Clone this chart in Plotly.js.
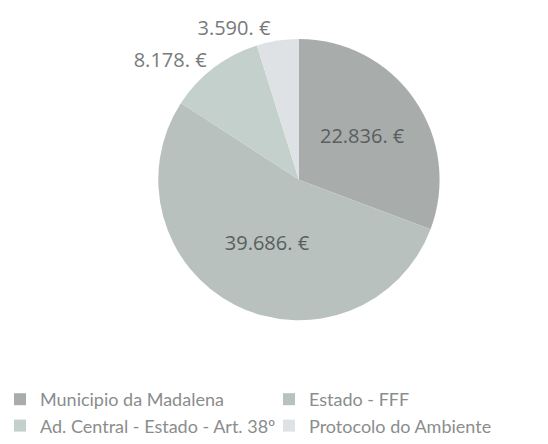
<!DOCTYPE html>
<html>
<head>
<meta charset="utf-8">
<script src="https://cdn.plot.ly/plotly-3.0.1.min.js"></script>
<style>html,body{margin:0;padding:0;background:#fff;}#chart{width:548px;height:444px;}</style>
</head>
<body>
<div id="chart"></div>
<script>
const categories = ["Municipio da Madalena", "Estado - FFF", "Ad. Central - Estado - Art. 38º", "Protocolo do Ambiente"];
const amounts = [22836, 39686, 8178, 3590];
const sliceColors = ["#a8acaa", "#b8c1bd", "#c4d0cc", "#dfe2e5"];

const trace = {
  type: "pie",
  labels: categories,
  values: amounts,
  sort: false,
  direction: "clockwise",
  rotation: 0,
  marker: {colors: sliceColors, line: {width: 0}},
  texttemplate: "%{value:,.0f}. €",
  textposition: ["inside", "inside", "outside", "outside"],
  insidetextorientation: "horizontal",
  textfont: {family: "Open Sans, sans-serif", size: 20, color: ["#5a5e5e", "#5a5e5e", "#777a7a", "#777a7a"]},
  hoverinfo: "none",
  domain: {x: [0.288, 0.803], y: [0.277, 0.912]}
};

const layout = {
  width: 548, height: 444,
  margin: {l: 0, r: 0, t: 0, b: 0},
  paper_bgcolor: "#fff",
  separators: ",.",
  showlegend: true,
  legend: {
    orientation: "h",
    x: 0, xanchor: "left",
    y: 0.14, yanchor: "top",
    font: {family: "Lato, sans-serif", size: 18, color: "#8a8d8d"},
    entrywidth: 224, entrywidthmode: "pixels",
    itemwidth: 30,
    tracegroupgap: 0
  }
};

Plotly.newPlot("chart", [trace], layout, {staticPlot: true});
</script>
</body>
</html>
